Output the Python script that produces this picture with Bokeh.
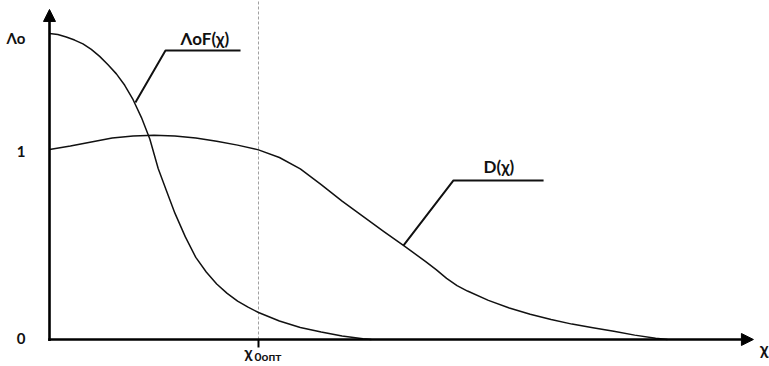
from bokeh.plotting import figure
from bokeh.models import Range1d, Arrow, NormalHead
from bokeh.embed import file_html
from bokeh.resources import INLINE
from bokeh.core.properties import value

# ---- data ----
LAMBDA0 = 1.61
X_OPT = 1.0
X_MAX = 3.368
Y_MAX = 1.737

f_x = [0.0, 0.04, 0.08, 0.12, 0.16, 0.20, 0.24, 0.28, 0.32, 0.36, 0.40,
       0.44, 0.48, 0.52, 0.56, 0.60, 0.65, 0.70, 0.75, 0.80, 0.85, 0.90,
       0.95, 1.00, 1.10, 1.20, 1.30, 1.40, 1.50, 1.54]
f_y = [1.610, 1.605, 1.592, 1.576, 1.556, 1.527, 1.490, 1.446, 1.398, 1.338,
       1.262, 1.168, 1.055, 0.900, 0.782, 0.665, 0.540, 0.432, 0.355, 0.292,
       0.243, 0.202, 0.170, 0.142, 0.097, 0.063, 0.039, 0.018, 0.004, 0.0]

d_x = [0.0, 0.1, 0.2, 0.3, 0.4, 0.5, 0.6, 0.7, 0.8, 0.9, 1.0, 1.1, 1.2,
       1.3, 1.4, 1.5, 1.6, 1.7, 1.8, 1.85, 1.9, 1.95, 2.0, 2.1, 2.2, 2.3,
       2.4, 2.5, 2.6, 2.7, 2.8, 2.9, 2.957]
d_y = [1.000, 1.018, 1.040, 1.060, 1.071, 1.075, 1.071, 1.060, 1.043, 1.023,
       0.998, 0.958, 0.898, 0.815, 0.728, 0.648, 0.568, 0.490, 0.410, 0.368,
       0.322, 0.284, 0.255, 0.206, 0.166, 0.133, 0.105, 0.081, 0.062, 0.044,
       0.023, 0.007, 0.0]

y_ticks = [0.0, 1.0, LAMBDA0]
y_tick_labels = ["0", "1", "Λo"]
y_label_offsets = [-1, 2, 4]

FONT = value("Lato")
INK = "#111111"

Y_TOP = 1.7842
p = figure(width=769, height=366, output_backend="svg", toolbar_location=None,
           x_range=Range1d(-0.23445, 3.44498), y_range=Range1d(-0.14211, Y_TOP),
           x_axis_location=None, y_axis_location=None, min_border=0)
p.grid.visible = False
p.outline_line_color = None
p.background_fill_color = "white"
p.border_fill_color = "white"

# dashed guide at x_opt
p.segment(x0=[X_OPT], y0=[0.0], x1=[X_OPT], y1=[Y_TOP],
          line_color="#a0a0a0", line_width=1, line_dash="3 2")

# curves
p.line(f_x, f_y, line_color=INK, line_width=1.5, line_join="round")
p.line(d_x, d_y, line_color=INK, line_width=1.5, line_join="round")

# axes with arrows
p.add_layout(Arrow(end=NormalHead(size=12, fill_color="black", line_color="black", line_width=1),
                   x_start=0.0, y_start=-0.008, x_end=0.0, y_end=Y_MAX,
                   line_color="black", line_width=2.6))
p.add_layout(Arrow(end=NormalHead(size=12, fill_color="black", line_color="black", line_width=1),
                   x_start=-0.006, y_start=0.0, x_end=X_MAX, y_end=0.0,
                   line_color="black", line_width=2.6))

# tick at x_opt
p.segment(x0=[X_OPT], y0=[0.0], x1=[X_OPT], y1=[-0.042], line_color="black", line_width=2)

# leader lines
p.line([0.411, 0.555, 0.914], [1.247, 1.521, 1.521], line_color=INK, line_width=2)
p.line([1.694, 1.933, 2.364], [0.495, 0.837, 0.837], line_color=INK, line_width=2)

# y tick labels
p.text(x=[-0.115] * 3, y=y_ticks, text=y_tick_labels, y_offset=y_label_offsets,
       text_align="right", text_baseline="middle", text_font=FONT,
       text_font_size="15px", text_font_style="bold", text_color=INK)

# curve labels
p.text(x=[0.627], y=[1.582], text=["ΛoF(χ)"], text_align="left",
       text_baseline="middle", text_font=FONT, text_font_size="17px",
       text_font_style="bold", text_color=INK)
p.text(x=[2.077], y=[0.912], text=["D(χ)"], text_align="left",
       text_baseline="middle", text_font=FONT, text_font_size="17px",
       text_font_style="bold", text_color=INK)

# x axis label
p.text(x=[3.440], y=[-0.050], text=["χ"], text_align="right",
       text_baseline="middle", text_font=FONT, text_font_size="17px",
       text_font_style="bold", text_color=INK)

# x_opt label
p.text(x=[0.933], y=[-0.064], text=["χ"], text_align="left",
       text_baseline="middle", text_font=FONT, text_font_size="16px",
       text_font_style="bold", text_color=INK)
p.text(x=[0.981], y=[-0.090], text=["0опт"], text_align="left",
       text_baseline="middle", text_font=FONT, text_font_size="12px",
       text_font_style="bold", text_color=INK)

open("out.html", "w").write(file_html(p, INLINE))
